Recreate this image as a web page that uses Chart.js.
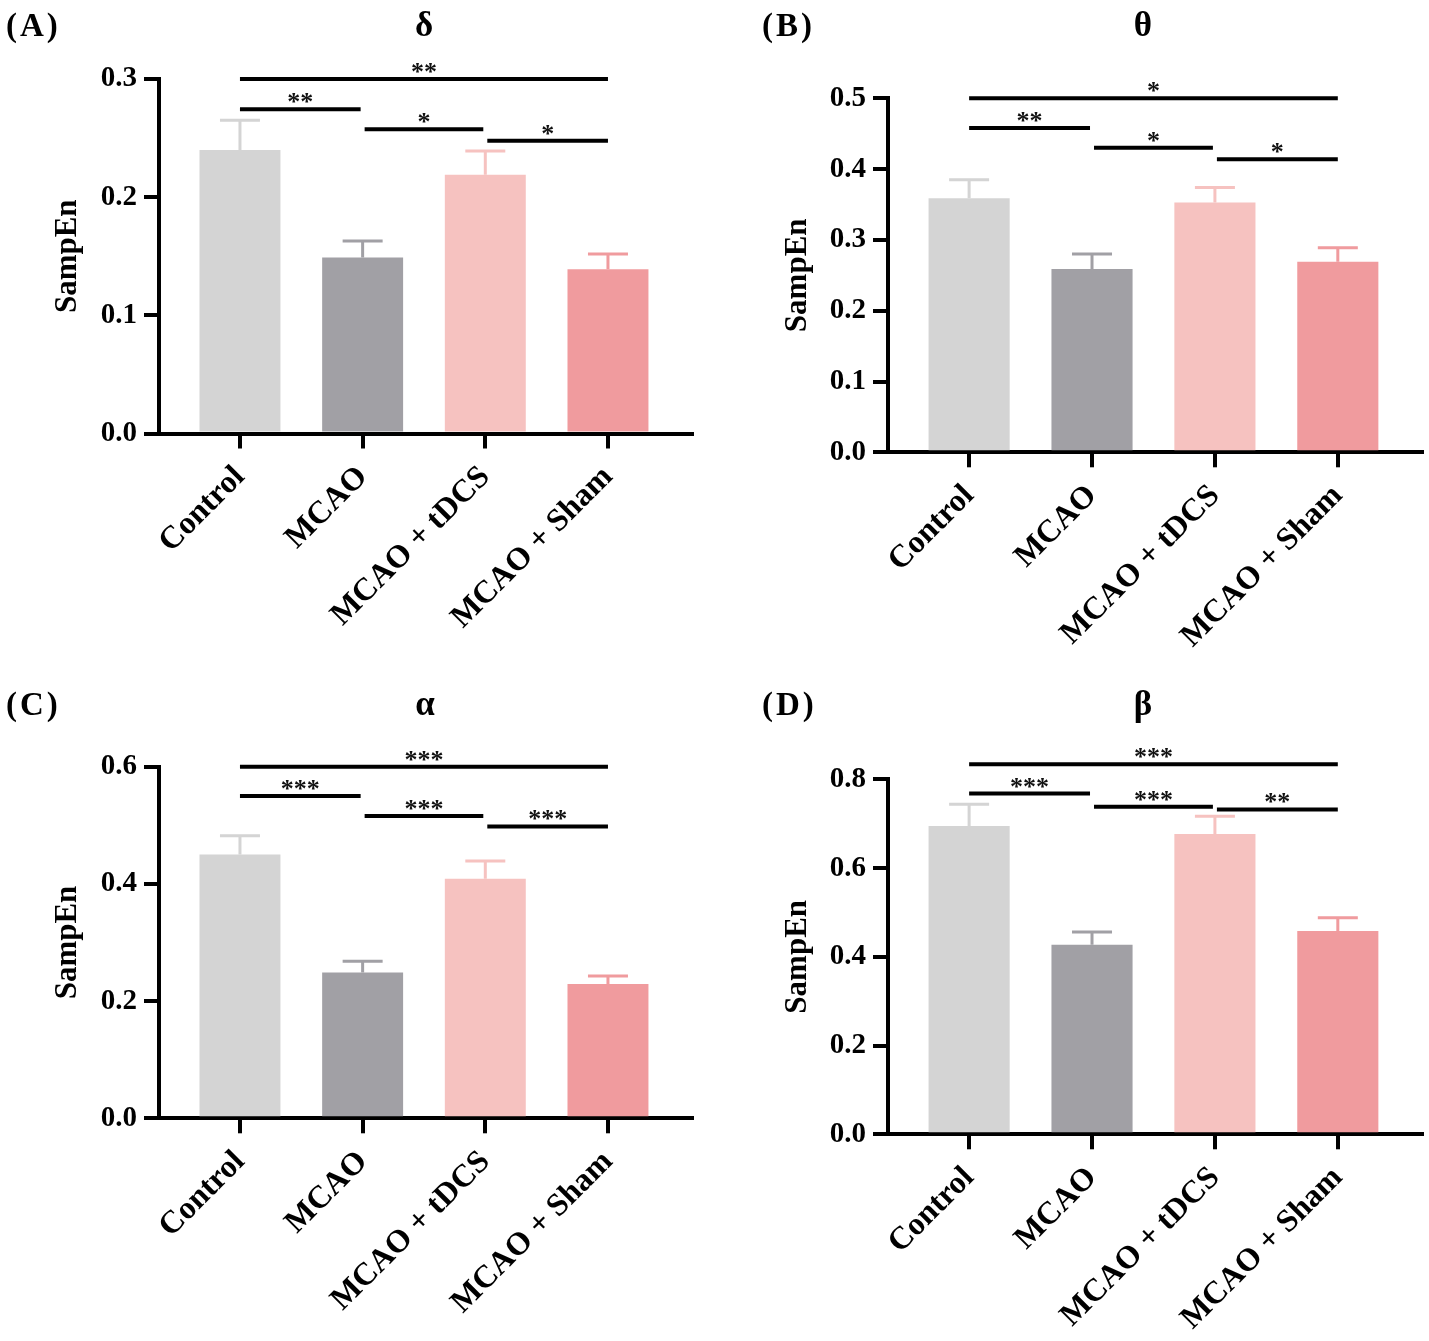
<!DOCTYPE html>
<html>
<head>
<meta charset="utf-8">
<script src="https://cdn.jsdelivr.net/npm/chart.js@4.4.1/dist/chart.umd.min.js"></script>
<style>
  html, body { margin: 0; padding: 0; background: #fff; }
  #wrap { position: relative; width: 1429px; height: 1341px; }
  canvas { position: absolute; }
  #warm { position: absolute; left: -9999px; font: bold 28px "Liberation Serif"; }
</style>
</head>
<body>
<div id="wrap">
  <canvas id="chartA" width="730" height="670" style="left:0;top:0"></canvas>
  <canvas id="chartB" width="699" height="670" style="left:730px;top:0"></canvas>
  <canvas id="chartC" width="730" height="671" style="left:0;top:670px"></canvas>
  <canvas id="chartD" width="699" height="671" style="left:730px;top:670px"></canvas>
</div>
<span id="warm">Control MCAO 0.1 δθαβ *</span>
<script>
// groups and colours
const groups = ["Control", "MCAO", "MCAO + tDCS", "MCAO + Sham"];
const barColors = ["#d4d4d4", "#a1a0a5", "#f6c2c0", "#f09b9e"];

// delta band
const deltaMean = [0.240, 0.149, 0.219, 0.139];
const deltaSem = [0.025, 0.014, 0.020, 0.013];
const deltaTicks = [0.0, 0.1, 0.2, 0.3];
const deltaSigY = [0.300, 0.2745, 0.2574, 0.2478];
const deltaSigText = ["**", "**", "*", "*"];

// theta band
const thetaMean = [0.359, 0.259, 0.353, 0.269];
const thetaSem = [0.026, 0.021, 0.021, 0.020];
const thetaTicks = [0.0, 0.1, 0.2, 0.3, 0.4, 0.5];
const thetaSigY = [0.500, 0.458, 0.430, 0.414];
const thetaSigText = ["*", "**", "*", "*"];

// alpha band
const alphaMean = [0.450, 0.249, 0.409, 0.229];
const alphaSem = [0.032, 0.019, 0.030, 0.014];
const alphaTicks = [0.0, 0.2, 0.4, 0.6];
const alphaSigY = [0.600, 0.550, 0.516, 0.498];
const alphaSigText = ["***", "***", "***", "***"];

// beta band
const betaMean = [0.695, 0.427, 0.677, 0.458];
const betaSem = [0.049, 0.029, 0.040, 0.030];
const betaTicks = [0.0, 0.2, 0.4, 0.6, 0.8];
const betaSigY = [0.834, 0.768, 0.738, 0.732];
const betaSigText = ["***", "***", "***", "**"];

// comparison pairs (same in every panel)
const sigPairs = [[0, 3], [0, 1], [1, 2], [2, 3]];

const serif = '"Liberation Serif", "Times New Roman", serif';

const sampEnPlugin = {
  id: 'sampEn',
  afterDatasetsDraw(chart, args, opts) {
    const { ctx } = chart;
    const x = chart.scales.x, y = chart.scales.y;
    ctx.save();
    // error bars (upper half only, bar colour)
    opts.mean.forEach((m, i) => {
      const cx = x.getPixelForValue(i);
      const y0 = y.getPixelForValue(m);
      const y1 = y.getPixelForValue(m + opts.sem[i]);
      ctx.strokeStyle = barColors[i];
      ctx.lineWidth = 3;
      ctx.beginPath();
      ctx.moveTo(cx, y0);
      ctx.lineTo(cx, y1);
      ctx.moveTo(cx - 20, y1);
      ctx.lineTo(cx + 20, y1);
      ctx.stroke();
    });
    // significance brackets
    ctx.strokeStyle = '#000';
    ctx.fillStyle = '#111';
    ctx.lineWidth = 4;
    ctx.font = 'bold 26px ' + serif;
    ctx.textAlign = 'center';
    ctx.textBaseline = 'alphabetic';
    sigPairs.forEach(([a, b], k) => {
      const xa = x.getPixelForValue(a) + (a === 0 ? 0 : 2);
      const xb = x.getPixelForValue(b) - (b === 3 ? 0 : 2);
      const ly = y.getPixelForValue(opts.sigY[k]);
      ctx.beginPath();
      ctx.moveTo(xa, ly);
      ctx.lineTo(xb, ly);
      ctx.stroke();
      ctx.fillText(opts.sigText[k], (xa + xb) / 2, ly + 1);
    });
    ctx.restore();
  },
  afterDraw(chart, args, opts) {
    const { ctx } = chart;
    ctx.save();
    ctx.fillStyle = '#000';
    ctx.font = 'bold 33px ' + serif;
    ctx.textBaseline = 'alphabetic';
    ctx.textAlign = 'left';
    ctx.letterSpacing = '3px';
    ctx.fillText(opts.letter, opts.letterX, opts.titleY);
    ctx.letterSpacing = '0px';
    ctx.font = 'bold 35px ' + serif;
    ctx.textAlign = 'center';
    ctx.fillText(opts.title, opts.titleX, opts.titleY);
    ctx.restore();
  }
};

// panel placement in canvas pixels
const panels = [
  { id: 'chartA', letter: '(A)', title: 'δ', mean: deltaMean, sem: deltaSem, ticks: deltaTicks, sigY: deltaSigY, sigText: deltaSigText,
    area: { left: 159, right: 692, top: 79, bottom: 433.5 }, letterX: 6, titleX: 424, titleY: 36 },
  { id: 'chartB', letter: '(B)', title: 'θ', mean: thetaMean, sem: thetaSem, ticks: thetaTicks, sigY: thetaSigY, sigText: thetaSigText,
    area: { left: 158, right: 692, top: 98.3, bottom: 452.3 }, letterX: 32, titleX: 413, titleY: 36 },
  { id: 'chartC', letter: '(C)', title: 'α', mean: alphaMean, sem: alphaSem, ticks: alphaTicks, sigY: alphaSigY, sigText: alphaSigText,
    area: { left: 159, right: 692, top: 96.7, bottom: 448.3 }, letterX: 6, titleX: 425, titleY: 45 },
  { id: 'chartD', letter: '(D)', title: 'β', mean: betaMean, sem: betaSem, ticks: betaTicks, sigY: betaSigY, sigText: betaSigText,
    area: { left: 158, right: 692, top: 109.3, bottom: 464.3 }, letterX: 32, titleX: 413, titleY: 45 }
];

function makeChart(p) {
  const canvas = document.getElementById(p.id);
  const W = canvas.width, H = canvas.height;
  const tickFont = { family: serif, size: 29, weight: 'bold' };
  const labelFont = { family: serif, size: 32, weight: 'bold' };
  const titleFont = { family: serif, size: 31, weight: 'bold' };
  return new Chart(canvas, {
    type: 'bar',
    data: {
      datasets: [{
        data: p.mean.map((v, i) => ({ x: i, y: v })),
        backgroundColor: barColors,
        borderWidth: 0,
        barPercentage: 0.66,
        categoryPercentage: 1
      }]
    },
    options: {
      responsive: false,
      animation: false,
      layout: { autoPadding: false, padding: { left: 0, top: p.area.top, right: W - p.area.right, bottom: 0 } },
      plugins: {
        legend: { display: false },
        tooltip: { enabled: false },
        sampEn: { mean: p.mean, sem: p.sem, sigY: p.sigY, sigText: p.sigText,
                  letter: p.letter, title: p.title, letterX: p.letterX, titleX: p.titleX, titleY: p.titleY }
      },
      scales: {
        x: {
          type: 'linear',
          offset: false,
          min: -0.66,
          max: 3.685,
          z: 1,
          afterFit: s => { s.height = H - p.area.bottom; },
          afterBuildTicks: s => { s.ticks = groups.map((g, i) => ({ value: i })); },
          ticks: { autoSkip: false, minRotation: 45, maxRotation: 45, padding: 10, color: '#000', font: labelFont,
                   callback: (v, i) => groups[i] },
          grid: { offset: false, drawOnChartArea: false, tickLength: 15, lineWidth: 4, color: '#000' },
          border: { width: 4, color: '#000' }
        },
        y: {
          min: 0,
          max: p.ticks[p.ticks.length - 1],
          z: 1,
          afterFit: s => { s.width = p.area.left; },
          afterBuildTicks: s => { s.ticks = p.ticks.map(v => ({ value: v })); },
          ticks: { padding: 7, color: '#000', font: tickFont, callback: v => v.toFixed(1) },
          grid: { drawOnChartArea: false, tickLength: 15, lineWidth: 4, color: '#000' },
          border: { width: 4, color: '#000' },
          title: { display: true, text: 'SampEn', color: '#000', font: titleFont, padding: { top: 49, bottom: 0 } }
        }
      }
    },
    plugins: [sampEnPlugin]
  });
}

document.fonts.load('bold 28px "Liberation Serif"').then(() => document.fonts.ready).then(() => {
  panels.forEach(makeChart);
});
</script>
</body>
</html>
